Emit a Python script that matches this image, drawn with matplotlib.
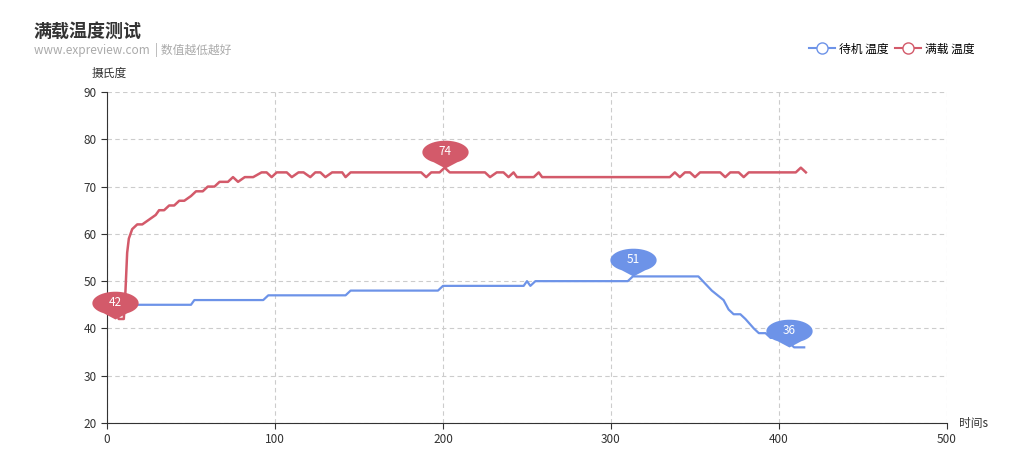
import numpy as np
import matplotlib.pyplot as plt
from matplotlib.path import Path
from matplotlib.lines import Line2D

plt.rcParams['font.family'] = ['Noto Sans CJK SC', 'DejaVu Sans']

# 待机 温度 (time, °C)
idle_t = [5, 50, 52, 93, 96, 142, 145, 197, 200, 248, 250, 252, 255, 310, 313, 352,
          360, 367, 370, 373, 377, 380, 385, 388, 392, 395, 400, 403, 406, 409, 415]
idle_v = [45, 45, 46, 46, 47, 47, 48, 48, 49, 49, 50, 49, 50, 50, 51, 51,
          48, 46, 44, 43, 43, 42, 40, 39, 39, 38, 38, 37, 37, 36, 36]

# 满载 温度
load_t = [5, 7, 10, 11, 12, 13, 15, 18, 21, 25, 29, 31, 34, 37, 40, 43, 46, 50, 53, 57,
          60, 64, 67, 72, 75, 78, 82, 87, 92, 95, 98, 101, 107, 110, 114, 117, 121, 124,
          127, 130, 134, 140, 142, 145, 187, 190, 193, 198, 201, 204, 225, 228, 232, 236,
          239, 242, 244, 254, 257, 259, 335, 338, 341, 344, 347, 350, 353, 365, 368, 371,
          376, 379, 382, 410, 413, 416]
load_v = [44, 42, 42, 48, 56, 59, 61, 62, 62, 63, 64, 65, 65, 66, 66, 67, 67, 68, 69, 69,
          70, 70, 71, 71, 72, 71, 72, 72, 73, 73, 72, 73, 73, 72, 73, 73, 72, 73,
          73, 72, 73, 73, 72, 73, 73, 72, 73, 73, 74, 73, 73, 72, 73, 73,
          72, 73, 72, 72, 73, 72, 72, 73, 72, 73, 73, 72, 73, 73, 72, 73,
          73, 72, 73, 73, 74, 73]

# extreme points shown as pins
idle_marks = [(313, 51), (406, 36)]
load_marks = [(5, 42), (201, 74)]

blue = '#6d93e8'
red = '#d35a6a'

fig = plt.figure(figsize=(10.35, 4.7), dpi=100)
ax = fig.add_axes([107/1035, 47/470, 840/1035, 331/470])

ax.plot(idle_t, idle_v, color=blue, lw=1.6, zorder=3)
ax.plot(load_t, load_v, color=red, lw=1.8, zorder=3)

# balloon pin shape
th = np.linspace(np.pi * 1.33, np.pi * 1.33 - 2 * np.pi * 0.83, 40)
verts = [(0, 0)] + [(1.0 * np.cos(a), 0.5 * np.sin(a) + 0.7) for a in th] + [(0, 0)]
pin = Path(verts, [Path.MOVETO] + [Path.LINETO] * 40 + [Path.CLOSEPOLY])
for marks, c in [(idle_marks, blue), (load_marks, red)]:
    for x, y in marks:
        ax.plot(x, y, marker=pin, markersize=40, color=c, markeredgewidth=0, zorder=5, clip_on=False)
        ax.annotate(str(y), (x, y), xytext=(0, 13), textcoords='offset points',
                    ha='center', va='center_baseline', color='white', fontsize=8.5, zorder=6)

ax.set_xlim(0, 500)
ax.set_ylim(20, 90)
ax.set_xticks(range(0, 501, 100))
ax.set_yticks(range(20, 91, 10))
ax.grid(True, ls=(0, (4, 3)), color='#cccccc', lw=0.8)
for s in ['top', 'right']:
    ax.spines[s].set_visible(False)
for s in ['left', 'bottom']:
    ax.spines[s].set_color('#333333')
ax.tick_params(colors='#333333', labelsize=8.5, length=4, direction='out')
ax.text(-9, 92.5, '摄氏度', fontsize=8.5, color='#333333', va='bottom', clip_on=False)
ax.text(507, 20, '时间s', fontsize=8.5, color='#333333', va='center', clip_on=False)

fig.text(34/1035, 1 - 31/470, '满载温度测试', fontsize=13, fontweight='bold', color='#333333', va='center')
fig.text(34/1035, 1 - 50/470, 'www.expreview.com  | 数值越低越好', fontsize=8.5, color='#aaaaaa', va='center')

handles = [Line2D([], [], color=blue, marker='o', markerfacecolor='white', markersize=8, lw=1.5),
           Line2D([], [], color=red, marker='o', markerfacecolor='white', markersize=8, lw=1.5)]
fig.legend(handles, ['待机 温度', '满载 温度'], loc='center right', bbox_to_anchor=(985/1035, 1 - 49/470),
           ncol=2, frameon=False, fontsize=8.5, handlelength=2.2, columnspacing=0.6, handletextpad=0.3)

fig.savefig('out.png', dpi=100)
